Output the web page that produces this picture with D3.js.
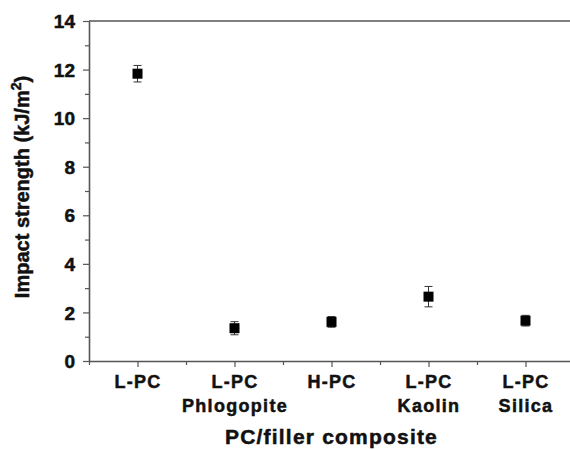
<!DOCTYPE html>
<html>
<head>
<meta charset="utf-8">
<script src="https://cdn.jsdelivr.net/npm/d3@7"></script>
<style>
  body { margin: 0; background: #fff; }
  text { font-family: "Liberation Sans", Arial, sans-serif; font-weight: bold; fill: #111; }
</style>
</head>
<body>
<div id="chart"></div>
<script>
var svgWidth = 570;
var svgHeight = 450;

// data
var names = ["L-PC", "L-PC\nPhlogopite", "H-PC", "L-PC\nKaolin", "L-PC\nSilica"];
var strength = [11.83, 1.35, 1.61, 2.65, 1.66];
var errors = [0.34, 0.27, 0.22, 0.42, 0.22];
var yTicks = [0, 2, 4, 6, 8, 10, 12, 14];

var margin = { top: 21, right: -4, bottom: 89, left: 89 };
var width = svgWidth - margin.left - margin.right;
var height = svgHeight - margin.top - margin.bottom;

var svg = d3.select("#chart").append("svg")
  .attr("width", svgWidth)
  .attr("height", svgHeight);

var g = svg.append("g")
  .attr("transform", `translate(${margin.left}, ${margin.top})`);

var x = d3.scaleLinear().domain([0.5, 5.5]).range([0, width]);
var y = d3.scaleLinear().domain([0, 14]).range([height, 0]);

var axisColor = "#555";
var heavy = "0.5px";

// frame top line
g.append("line")
  .attr("x1", 0).attr("x2", width)
  .attr("y1", 0).attr("y2", 0)
  .attr("stroke", axisColor).attr("stroke-width", 1.6);

// minor ticks
var yMinor = d3.range(1, 14, 2);
g.append("g")
  .call(d3.axisLeft(y).tickValues(yMinor).tickSize(4).tickFormat("").tickSizeOuter(0))
  .call(a => a.select(".domain").remove())
  .selectAll("line").attr("stroke", axisColor).attr("stroke-width", 1.2);

var xMinor = [0.5, 1.5, 2.5, 3.5, 4.5, 5.5];
g.append("g")
  .attr("transform", `translate(0, ${height})`)
  .call(d3.axisBottom(x).tickValues(xMinor).tickSize(4).tickFormat("").tickSizeOuter(0))
  .call(a => a.select(".domain").remove())
  .selectAll("line").attr("stroke", axisColor).attr("stroke-width", 1.2);

// y axis, labels written by hand so the bold font sticks
var yAxis = g.append("g")
  .call(d3.axisLeft(y).tickValues(yTicks).tickSize(6).tickSizeOuter(0).tickFormat(""));
yAxis.select(".domain").attr("stroke", axisColor).attr("stroke-width", 1.6);
yAxis.selectAll(".tick line").attr("stroke", axisColor).attr("stroke-width", 1.2);
yAxis.selectAll(".tick").each(function(d) {
  d3.select(this).append("text")
    .attr("x", -14)
    .attr("dy", "0.35em")
    .attr("text-anchor", "end")
    .style("font-size", "19px")
    .style("stroke", "#111").style("stroke-width", heavy)
    .text(d);
});

// x axis
var xAxis = g.append("g")
  .attr("transform", `translate(0, ${height})`)
  .call(d3.axisBottom(x).tickValues([1, 2, 3, 4, 5]).tickSize(6).tickSizeOuter(0).tickFormat(""));
xAxis.select(".domain").attr("stroke", axisColor).attr("stroke-width", 1.6);
xAxis.selectAll(".tick line").attr("stroke", axisColor).attr("stroke-width", 1.2);

// category labels (two lines)
xAxis.selectAll(".tick").each(function(d, i) {
  var lines = names[i].split("\n");
  var t = d3.select(this).append("text")
    .attr("text-anchor", "middle")
    .attr("y", 27)
    .style("font-size", "18px")
    .style("letter-spacing", "1.3px")
    .style("stroke", "#111").style("stroke-width", heavy);
  lines.forEach(function(l, k) {
    t.append("tspan").attr("x", 0).attr("dy", k === 0 ? 0 : 24).text(l);
  });
});

// error bars
var pts = names.map((n, i) => ({ x: i + 1, v: strength[i], e: errors[i] }));
var eb = g.selectAll(".err").data(pts).enter().append("g").attr("class", "err")
  .attr("stroke", "#333").attr("stroke-width", 1);
eb.append("line")
  .attr("x1", d => x(d.x)).attr("x2", d => x(d.x))
  .attr("y1", d => y(d.v + d.e)).attr("y2", d => y(d.v - d.e));
eb.append("line")
  .attr("x1", d => x(d.x) - 4).attr("x2", d => x(d.x) + 4)
  .attr("y1", d => y(d.v + d.e)).attr("y2", d => y(d.v + d.e));
eb.append("line")
  .attr("x1", d => x(d.x) - 4).attr("x2", d => x(d.x) + 4)
  .attr("y1", d => y(d.v - d.e)).attr("y2", d => y(d.v - d.e));

// points
var s = 10;
g.selectAll(".pt").data(pts).enter().append("rect")
  .attr("class", "pt")
  .attr("x", d => x(d.x) - s / 2)
  .attr("y", d => y(d.v) - s / 2)
  .attr("width", s).attr("height", s)
  .attr("fill", "#000");

// axis titles
var yt = svg.append("text")
  .attr("transform", "translate(29, 187) rotate(-90)")
  .attr("text-anchor", "middle")
  .style("font-size", "20px")
  .style("stroke", "#111").style("stroke-width", heavy);
yt.append("tspan").text("Impact strength (kJ/m");
yt.append("tspan").attr("dy", -8).style("font-size", "14px").text("2");
yt.append("tspan").attr("dy", 8).text(")");

svg.append("text")
  .attr("x", margin.left + x(3))
  .attr("y", 444)
  .attr("text-anchor", "middle")
  .style("font-size", "21px")
  .style("letter-spacing", "1.2px")
  .style("stroke", "#111").style("stroke-width", heavy)
  .text("PC/filler composite");
</script>
</body>
</html>
